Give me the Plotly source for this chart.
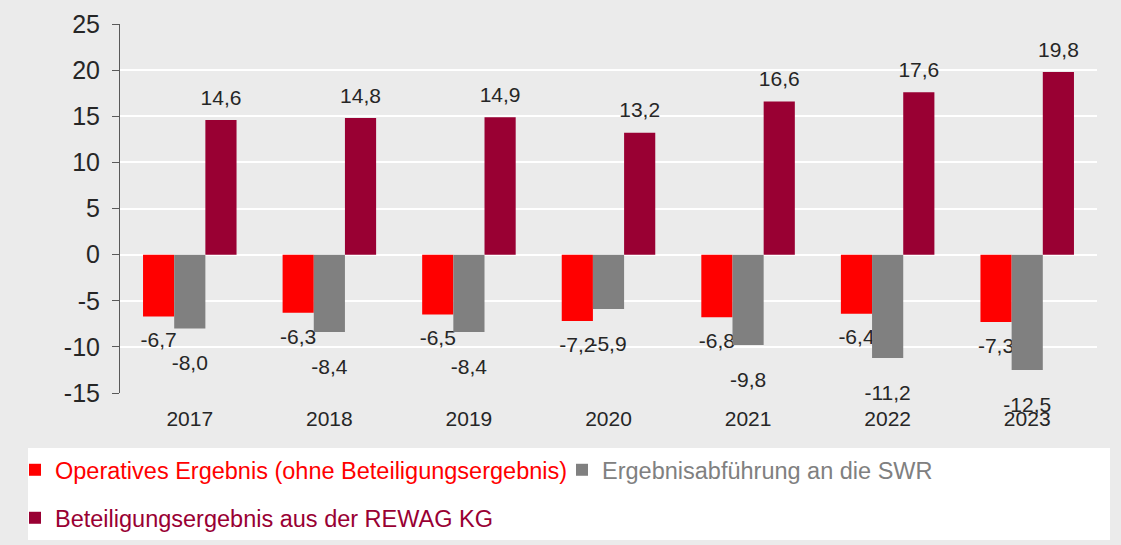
import plotly.graph_objects as go

years = ["2017", "2018", "2019", "2020", "2021", "2022", "2023"]
operatives = [-6.7, -6.3, -6.5, -7.2, -6.8, -6.4, -7.3]
abfuehrung = [-8.0, -8.4, -8.4, -5.9, -9.8, -11.2, -12.5]
beteiligung = [14.6, 14.8, 14.9, 13.2, 16.6, 17.6, 19.8]
y_tick_values = [-15, -10, -5, 0, 5, 10, 15, 20, 25]
y_tick_labels = ["-15", "-10", "-5", "0", "5", "10", "15", "20", "25"]

names = [
    "Operatives Ergebnis (ohne Beteiligungsergebnis)",
    "Ergebnisabführung an die SWR",
    "Beteiligungsergebnis aus der REWAG KG",
]
colors = ["#ff0000", "#808080", "#990033"]
series = [operatives, abfuehrung, beteiligung]
legends = ["legend", "legend2", "legend3"]


def pad_above(size):
    # invisible spacer raised above the label -> pushes label away from bar end (below bars)
    s = f"<sup><span style='font-size:{size}px'>\u00a0</span></sup>"
    return s + "%{y:.1f}" + s


def pad_below(size):
    # invisible spacer lowered below the label -> pushes label away from bar top
    s = f"<sub><span style='font-size:{size}px'>\u00a0</span></sub>"
    return s + "%{y:.1f}" + s


templates = [pad_above(21), pad_above(33), pad_below(38)]

FONT = "Liberation Sans, Arial, sans-serif"
TXT = "#262626"
AX = "#595959"
W, H = 1121, 545

fig = go.Figure()
for nm, col, vals, lg, tpl in zip(names, colors, series, legends, templates):
    fig.add_trace(go.Bar(
        x=years, y=vals,
        name=f"<span style='color:{col}'>{nm}</span>",
        marker=dict(color=col, line=dict(width=0)),
        texttemplate=tpl,
        textposition="outside",
        constraintext="none",
        cliponaxis=False,
        textfont=dict(size=21, color=TXT, family=FONT),
        legend=lg,
    ))

leg_common = dict(
    orientation="h",
    xref="container", yref="container",
    xanchor="left", yanchor="middle",
    font=dict(size=23.5, family=FONT),
    bgcolor="rgba(0,0,0,0)",
)

fig.update_layout(
    width=W, height=H,
    margin=dict(l=120, r=24, t=24, b=152, autoexpand=False),
    paper_bgcolor="#ebebeb",
    plot_bgcolor="#ebebeb",
    separators=",.",
    barmode="group",
    bargap=0.33,
    bargroupgap=0,
    font=dict(family=FONT, color=TXT),
    showlegend=True,
    legend=dict(leg_common, x=15 / W, y=(H - 470) / H),
    legend2=dict(leg_common, x=562 / W, y=(H - 470) / H),
    legend3=dict(leg_common, x=15 / W, y=(H - 518) / H),
    xaxis=dict(
        type="category",
        showline=False, showgrid=False, zeroline=False,
        ticks="",
        tickfont=dict(size=21, color=TXT),
        ticklabelstandoff=11,
    ),
    xaxis2=dict(
        overlaying="x",
        anchor="free",
        position=15 / 40,
        type="linear",
        range=[-0.5, 6.5],
        tickvals=[0.5, 1.5, 2.5, 3.5, 4.5, 5.5, 6.5],
        showticklabels=False,
        ticks="outside", ticklen=7, tickcolor=AX, tickwidth=1,
        showline=True, linecolor=AX, linewidth=1,
        showgrid=False, zeroline=False,
    ),
    yaxis=dict(
        range=[-15, 25],
        tickmode="array", tickvals=y_tick_values, ticktext=y_tick_labels,
        showline=True, linecolor=AX, linewidth=1,
        ticks="outside", ticklen=7, tickcolor=AX,
        ticklabelstandoff=7,
        gridcolor="white", gridwidth=2,
        zeroline=False,
        tickfont=dict(size=25, color=TXT),
    ),
    shapes=[dict(
        type="rect", xref="paper", yref="paper",
        x0=(28 - 120) / 977, x1=(1110 - 120) / 977,
        y0=(393 - 540) / 369, y1=(393 - 448) / 369,
        fillcolor="white", line=dict(width=0), layer="below",
    )],
)

fig.write_html(
    "out.html",
    config={"displayModeBar": False},
    post_script="document.body.style.margin='0';document.body.style.overflow='hidden';",
)
